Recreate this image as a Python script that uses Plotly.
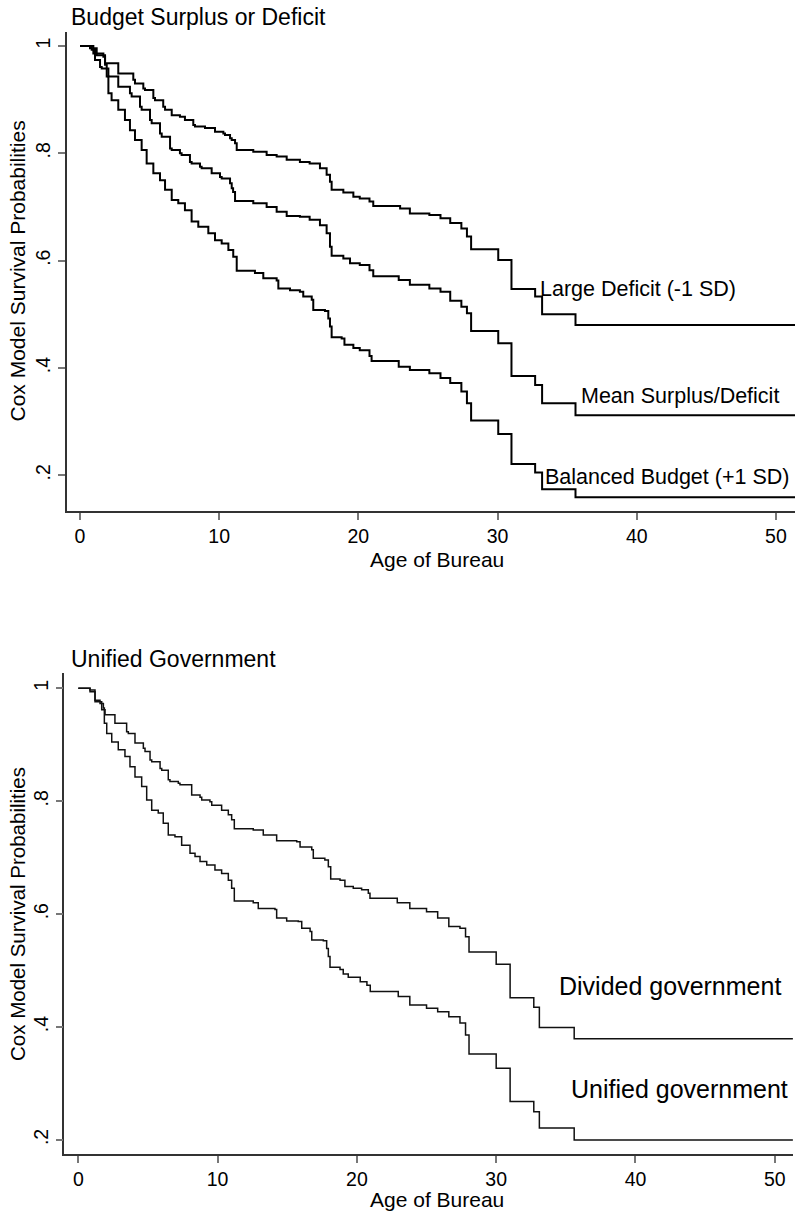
import plotly.graph_objects as go

W, H = 800, 1211

# ---------------- data: top panel (Budget Surplus or Deficit) ----------------
deficit_t = [0, 0.72, 1.2, 1.8, 2.75, 3.83, 3.95, 4.55, 4.67, 5.27, 5.39, 5.98, 6.11, 6.59, 7.18, 7.54,
             8.14, 8.26, 8.98, 9.7, 10.3, 10.42, 10.78, 10.9, 11.14, 11.26, 12.45, 13.41, 14.13, 14.85,
             15.8, 16.5, 17.24, 17.72, 17.96, 18.08, 18.92, 19.64, 20.1, 20.8, 21.07, 23.0, 23.7, 25.1,
             25.9, 26.6, 27.4, 27.8, 28.1, 30.05, 31.0, 32.7, 33.2, 35.6, 51.4]
deficit_s = [1, 0.996, 0.983, 0.968, 0.949, 0.937, 0.930, 0.921, 0.918, 0.903, 0.899, 0.887, 0.881,
             0.871, 0.868, 0.862, 0.853, 0.850, 0.847, 0.840, 0.837, 0.834, 0.828, 0.825, 0.819, 0.806,
             0.803, 0.797, 0.794, 0.788, 0.784, 0.781, 0.772, 0.760, 0.747, 0.732, 0.727, 0.719, 0.716,
             0.710, 0.702, 0.697, 0.688, 0.685, 0.679, 0.670, 0.660, 0.645, 0.621, 0.601, 0.547, 0.533,
             0.500, 0.480, 0.480]

mean_t = [0, 0.84, 1.08, 1.44, 1.56, 2.04, 2.75, 3.59, 3.71, 4.31, 4.43, 5.03, 5.15, 5.75, 5.87, 6.47,
          6.59, 7.18, 7.3, 7.9, 8.02, 8.62, 8.74, 9.46, 10.06, 10.18, 10.78, 10.9, 11.0, 11.14, 12.45,
          13.41, 14.13, 14.85, 15.8, 16.5, 17.24, 17.72, 17.96, 18.08, 18.92, 19.4, 20.1, 20.8, 21.07,
          22.9, 23.7, 25.1, 25.9, 26.6, 27.4, 27.8, 28.1, 30.05, 31.0, 32.7, 33.2, 35.6, 51.4]
mean_s = [1, 0.993, 0.974, 0.961, 0.958, 0.943, 0.924, 0.912, 0.906, 0.887, 0.881, 0.862, 0.856, 0.837,
          0.831, 0.809, 0.806, 0.800, 0.797, 0.784, 0.781, 0.775, 0.772, 0.763, 0.756, 0.753, 0.744,
          0.735, 0.728, 0.711, 0.707, 0.700, 0.691, 0.683, 0.682, 0.676, 0.666, 0.651, 0.626, 0.609,
          0.604, 0.595, 0.592, 0.582, 0.571, 0.564, 0.555, 0.548, 0.542, 0.525, 0.514, 0.502, 0.469,
          0.446, 0.385, 0.368, 0.334, 0.312, 0.312]

balanced_t = [0, 0.96, 1.68, 1.8, 1.92, 2.04, 2.27, 2.75, 3.23, 3.59, 3.95, 4.43, 4.79, 5.27, 5.75, 6.11,
              6.59, 7.06, 7.54, 8.02, 8.5, 9.22, 9.7, 10.18, 10.66, 11.01, 11.26, 12.57, 13.17, 14.13,
              14.25, 15.09, 15.8, 16.04, 16.65, 16.76, 17.6, 17.84, 17.96, 18.08, 18.8, 19.0, 19.64, 20.1,
              20.8, 20.95, 22.9, 23.7, 25.1, 25.9, 26.6, 27.4, 27.8, 28.1, 30.05, 31.0, 32.7, 33.2, 35.6,
              51.4]
balanced_s = [1, 0.986, 0.980, 0.965, 0.943, 0.912, 0.899, 0.881, 0.862, 0.843, 0.825, 0.806, 0.781,
              0.763, 0.750, 0.732, 0.713, 0.707, 0.694, 0.673, 0.663, 0.651, 0.638, 0.632, 0.620, 0.607,
              0.581, 0.577, 0.567, 0.563, 0.548, 0.545, 0.542, 0.533, 0.527, 0.508, 0.506, 0.492, 0.477,
              0.457, 0.455, 0.443, 0.437, 0.433, 0.422, 0.413, 0.402, 0.396, 0.390, 0.381, 0.372, 0.356,
              0.334, 0.302, 0.277, 0.221, 0.205, 0.174, 0.159, 0.159]

# ---------------- data: bottom panel (Unified Government) ----------------
divided_t = [0, 0.84, 1.2, 1.68, 1.92, 2.63, 3.47, 3.59, 4.07, 4.67, 4.79, 5.15, 5.27, 5.87, 5.99, 6.46,
             6.58, 7.18, 7.3, 8.14, 8.74, 8.86, 9.45, 9.58, 10.29, 10.77, 11.01, 11.2, 12.56, 13.28, 14.24,
             15.68, 15.92, 16.76, 16.87, 17.7, 17.95, 18.12, 18.79, 19.14, 19.74, 20.34, 20.82, 20.94,
             22.9, 23.8, 25.0, 25.8, 26.6, 27.4, 27.8, 28.05, 30.0, 31.0, 32.7, 33.1, 35.6, 51.3]
divided_s = [1, 0.994, 0.976, 0.962, 0.953, 0.938, 0.923, 0.920, 0.903, 0.894, 0.888, 0.873, 0.870,
             0.858, 0.855, 0.838, 0.835, 0.832, 0.829, 0.811, 0.807, 0.802, 0.799, 0.793, 0.784, 0.776,
             0.767, 0.751, 0.749, 0.740, 0.730, 0.728, 0.719, 0.714, 0.699, 0.696, 0.684, 0.662, 0.660,
             0.649, 0.646, 0.643, 0.637, 0.628, 0.620, 0.610, 0.604, 0.593, 0.578, 0.575, 0.560, 0.533,
             0.511, 0.452, 0.435, 0.399, 0.379, 0.379]

unified_t = [0, 0.84, 1.2, 1.56, 1.8, 1.87, 2.04, 2.4, 2.87, 3.35, 3.71, 4.07, 4.55, 4.91, 5.27, 5.74,
             6.1, 6.46, 6.94, 7.42, 8.02, 8.38, 8.74, 9.22, 9.81, 10.29, 10.77, 11.01, 11.2, 12.56, 12.92,
             14.12, 14.24, 14.96, 15.79, 16.04, 16.64, 16.76, 17.59, 17.83, 17.95, 18.07, 18.79, 19.02,
             19.38, 20.24, 20.72, 20.96, 22.97, 23.8, 25.0, 25.8, 26.6, 27.4, 27.8, 28.05, 30.0, 31.0,
             32.7, 33.1, 35.6, 51.3]
unified_s = [1, 0.997, 0.979, 0.973, 0.965, 0.938, 0.920, 0.905, 0.891, 0.879, 0.861, 0.843, 0.826,
             0.802, 0.784, 0.779, 0.761, 0.740, 0.737, 0.722, 0.708, 0.702, 0.693, 0.687, 0.678, 0.672,
             0.660, 0.646, 0.623, 0.620, 0.610, 0.608, 0.593, 0.588, 0.587, 0.575, 0.569, 0.554, 0.553,
             0.539, 0.525, 0.506, 0.502, 0.494, 0.488, 0.480, 0.474, 0.463, 0.454, 0.439, 0.433, 0.427,
             0.418, 0.407, 0.386, 0.352, 0.327, 0.268, 0.250, 0.221, 0.200, 0.200]

x_ticks = [0, 10, 20, 30, 40, 50]
y_ticks = [0.2, 0.4, 0.6, 0.8, 1.0]
y_ticktext = [".2", ".4", ".6", ".8", "1"]

top_labels = ["Large Deficit (-1 SD)", "Mean Surplus/Deficit", "Balanced Budget (+1 SD)"]
bottom_labels = ["Divided government", "Unified government"]

for a, b in [(deficit_t, deficit_s), (mean_t, mean_s), (balanced_t, balanced_s),
             (divided_t, divided_s), (unified_t, unified_s)]:
    assert len(a) == len(b), (len(a), len(b))

FONT = "Arial, 'Liberation Sans', sans-serif"

fig = go.Figure()
for t, s in [(deficit_t, deficit_s), (mean_t, mean_s), (balanced_t, balanced_s)]:
    fig.add_trace(go.Scatter(x=t, y=s, mode="lines", line=dict(color="black", width=2, shape="hv"),
                             xaxis="x", yaxis="y", showlegend=False, hoverinfo="skip"))
for t, s in [(divided_t, divided_s), (unified_t, unified_s)]:
    fig.add_trace(go.Scatter(x=t, y=s, mode="lines", line=dict(color="#111", width=1.5, shape="hv"),
                             xaxis="x2", yaxis="y2", showlegend=False, hoverinfo="skip"))

def px_x(p):
    return p / W

def px_y(p):
    return 1 - p / H

common_x = dict(showgrid=False, zeroline=False, showline=True, linecolor="#333", linewidth=1.5,
                ticks="outside", ticklen=7, tickwidth=1.5, tickcolor="#777",
                tickvals=x_ticks, tickfont=dict(family=FONT, size=19.5, color="black"))
common_y = dict(showgrid=False, zeroline=False, showline=True, linecolor="#333", linewidth=1.5,
                ticks="outside", ticklen=7, tickwidth=1.5, tickcolor="#777",
                tickvals=y_ticks, ticktext=y_ticktext, tickangle=-90,
                tickfont=dict(family=FONT, size=19.5, color="black"))

fig.update_layout(
    width=W, height=H, margin=dict(l=0, r=0, t=0, b=0),
    paper_bgcolor="white", plot_bgcolor="white",
    xaxis=dict(domain=[px_x(66.7), px_x(795)], range=[-0.955, 51.37], anchor="y", **common_x),
    yaxis=dict(domain=[px_y(511), px_y(31.7)], range=[0.1333, 1.0267], anchor="x", **common_y),
    xaxis2=dict(domain=[px_x(64.3), px_x(793.3)], range=[-1.005, 51.33], anchor="y2", **common_x),
    yaxis2=dict(domain=[px_y(1154), px_y(673.3)], range=[0.175, 1.0266], anchor="x2", **common_y),
)

ann = []
# panel titles
ann.append(dict(text="Budget Surplus or Deficit", x=px_x(69), y=px_y(17), xref="paper", yref="paper",
                xanchor="left", yanchor="middle", showarrow=False, font=dict(family=FONT, size=23, color="black")))
ann.append(dict(text="Unified Government", x=px_x(69), y=px_y(659), xref="paper", yref="paper",
                xanchor="left", yanchor="middle", showarrow=False, font=dict(family=FONT, size=23, color="black")))
# axis titles
for yc in [559, 1199]:
    ann.append(dict(text="Age of Bureau", x=px_x(437), y=px_y(yc), xref="paper", yref="paper",
                    xanchor="center", yanchor="middle", showarrow=False, font=dict(family=FONT, size=21, color="black")))
for yc, fs in [(271.5, 21), (914, 20.5)]:
    ann.append(dict(text="Cox Model Survival Probabilities", x=px_x(17), y=px_y(yc), xref="paper", yref="paper",
                    xanchor="center", yanchor="middle", textangle=-90, showarrow=False,
                    font=dict(family=FONT, size=fs, color="black")))
# curve labels (data coordinates)
for text, xv, yv in zip(top_labels, [32.92, 35.85, 33.28], [0.548, 0.348, 0.197]):
    ann.append(dict(text=text, x=xv, y=yv, xref="x", yref="y", xanchor="left", yanchor="middle",
                    showarrow=False, font=dict(family=FONT, size=21.5, color="black")))
for text, xv, yv in zip(bottom_labels, [34.34, 35.25], [0.472, 0.291]):
    ann.append(dict(text=text, x=xv, y=yv, xref="x2", yref="y2", xanchor="left", yanchor="middle",
                    showarrow=False, font=dict(family=FONT, size=25, color="black")))
fig.update_layout(annotations=ann)

fig.write_html("out.html")
